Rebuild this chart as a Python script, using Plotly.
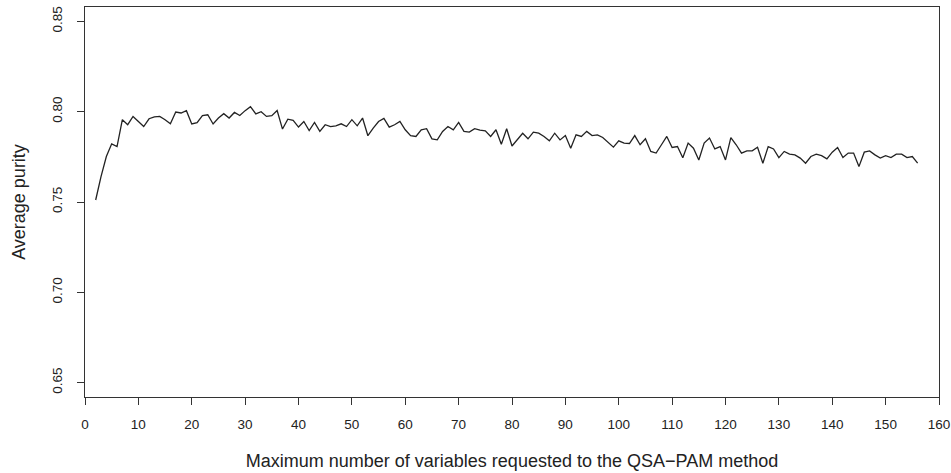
import plotly.graph_objects as go

# Number of variables requested (2..156)
n_vars = list(range(2, 157))

# Average purity for each requested number of variables
avg_purity = [
    0.7511, 0.7641, 0.7752, 0.7822, 0.7807, 0.7956, 0.7928, 0.7974, 0.7946, 0.7918,
    0.7961, 0.7972, 0.7974, 0.7956, 0.7933, 0.7998, 0.7993, 0.8006, 0.7932, 0.7939,
    0.7979, 0.7983, 0.7932, 0.7965, 0.7989, 0.7965, 0.7996, 0.7979, 0.8006, 0.8028,
    0.7988, 0.8000, 0.7974, 0.7978, 0.8007, 0.7904, 0.7959, 0.7952, 0.7915, 0.7946,
    0.7896, 0.7941, 0.7891, 0.7928, 0.7918, 0.7922, 0.7933, 0.7918, 0.7956, 0.7922,
    0.7965, 0.7867, 0.7909, 0.7946, 0.7963, 0.7915, 0.7928, 0.7946, 0.7900, 0.7867,
    0.7863, 0.7900, 0.7906, 0.7850, 0.7844, 0.7891, 0.7918, 0.7900, 0.7941, 0.7891,
    0.7887, 0.7906, 0.7898, 0.7894, 0.7863, 0.7900, 0.7820, 0.7906, 0.7810, 0.7844,
    0.7881, 0.7850, 0.7887, 0.7881, 0.7863, 0.7839, 0.7881, 0.7844, 0.7868, 0.7798,
    0.7872, 0.7863, 0.7891, 0.7868, 0.7872, 0.7857, 0.7831, 0.7804, 0.7839, 0.7826,
    0.7824, 0.7868, 0.7817, 0.7850, 0.7780, 0.7771, 0.7817, 0.7863, 0.7802, 0.7807,
    0.7745, 0.7826, 0.7798, 0.7733, 0.7826, 0.7854, 0.7794, 0.7807, 0.7733, 0.7857,
    0.7817, 0.7771, 0.7783, 0.7783, 0.7803, 0.7715, 0.7807, 0.7794, 0.7746, 0.7780,
    0.7765, 0.7761, 0.7743, 0.7715, 0.7752, 0.7765, 0.7757, 0.7739, 0.7776, 0.7802,
    0.7746, 0.7771, 0.7771, 0.7696, 0.7776, 0.7783, 0.7761, 0.7743, 0.7757, 0.7746,
    0.7765, 0.7765, 0.7746, 0.7752, 0.7715,
]

x_ticks = list(range(0, 161, 10))
y_ticks = [0.65, 0.70, 0.75, 0.80, 0.85]

FONT = "Liberation Sans, Arial, Helvetica, sans-serif"

fig = go.Figure(
    go.Scatter(
        x=n_vars,
        y=avg_purity,
        mode="lines",
        line=dict(color="#222222", width=1.3),
        hoverinfo="x+y",
    )
)

axis_common = dict(
    showline=True,
    linecolor="#333333",
    linewidth=1,
    mirror=True,
    ticks="outside",
    ticklen=7,
    tickwidth=1,
    tickcolor="#333333",
    showgrid=False,
    zeroline=False,
    tickfont=dict(family=FONT, size=13.5, color="#222222"),
    title_font=dict(family=FONT, size=18, color="#222222"),
)

fig.update_layout(
    width=951,
    height=473,
    margin=dict(l=85, r=12, t=7, b=76),
    paper_bgcolor="white",
    plot_bgcolor="white",
    showlegend=False,
    xaxis=dict(
        range=[0, 160],
        tickvals=x_ticks,
        ticktext=[str(v) for v in x_ticks],
        ticklabelstandoff=8,
        title=dict(text="Maximum number of variables requested to the QSA\u2212PAM method", standoff=23),
        automargin=False,
        **axis_common,
    ),
    yaxis=dict(
        range=[0.642, 0.858],
        tickvals=y_ticks,
        ticktext=[f"{v:.2f}" for v in y_ticks],
        tickangle=-90,
        ticklabelstandoff=10,
        title=dict(text="Average purity", standoff=19),
        automargin=False,
        **axis_common,
    ),
)

fig.write_html("out.html")
